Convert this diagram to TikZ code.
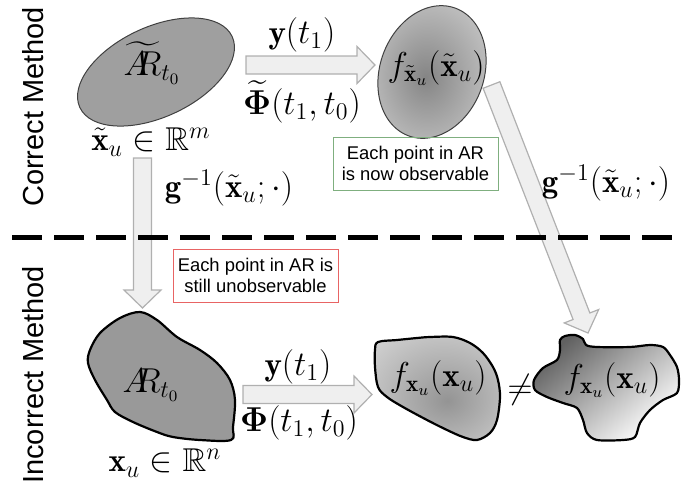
\documentclass[tikz,border=0pt]{standalone}
\usepackage{amsmath,amssymb}
\usepackage{fontspec}
\setsansfont{Liberation Sans}
\usetikzlibrary{shapes.geometric, calc}
\definecolor{arrowfill}{HTML}{EFEFEF}
\definecolor{arrowline}{HTML}{B0B0B0}
\definecolor{notegreen}{HTML}{7FAF7F}
\definecolor{notered}{HTML}{E86464}
\pgfdeclareradialshading{spotTop}{\pgfpoint{-3bp}{-2bp}}{color(0bp)=(black!48); color(18bp)=(black!34); color(44bp)=(black!14); color(70bp)=(black!14)}
\pgfdeclareradialshading{spotMid}{\pgfpoint{4bp}{-6bp}}{color(0bp)=(black!42); color(46bp)=(black!12); color(70bp)=(black!12)}

\begin{document}
\begin{tikzpicture}[x=0.5pt, y=-0.5pt,
    method/.style={font=\sffamily\fontsize{14.5}{17}\selectfont, rotate=90},
    lab/.style={font=\fontsize{16.5}{20}\selectfont, inner sep=0pt},
    note/.style={font=\sffamily\fontsize{9.2}{10.5}\selectfont, align=center, draw, line width=0.5pt, minimum width=82.5pt, minimum height=26.5pt, inner sep=1pt},
    blockarr/.style={fill=arrowfill, draw=arrowline, line width=0.6pt, line join=miter},
    region/.style={ellipse, draw=black!75, line width=0.5pt, inner sep=0pt},
    blob/.style={draw=black, line width=1.1pt, line join=round},
    divider/.style={line width=2.5pt, dash pattern=on 15pt off 6pt}
]
\useasboundingbox (0,0) rectangle (682,489);

\def\shw{4.5pt}
\def\hhw{9.25pt}
\def\hlen{9pt}
\def\blockarrow#1#2{%
  \coordinate (hb) at ($(#2)!\hlen!(#1)$);
  \draw[blockarr] ($(#1)!\shw!90:(#2)$) -- ($(hb)!\shw!90:(#2)$) -- ($(hb)!\hhw!90:(#2)$) -- (#2)
    -- ($(hb)!\hhw!-90:(#2)$) -- ($(hb)!\shw!-90:(#2)$) -- ($(#1)!\shw!-90:(#2)$) -- cycle;}

% Blob outlines
\def\blobBot{(140,312) (157,320) (177,337) (200,350) (217,363) (230,380) (235,400) (233,427) (231,440)
  (200,440) (173,437) (157,432) (133,422) (115,412) (107,400) (95,380) (88,363) (90,350) (100,333) (120,318)}
\def\blobMid{(378,342) (397,340) (417,338) (430,337) (453,337) (470,343) (483,353) (493,367) (498,380)
  (500,397) (497,420) (490,433) (477,440) (463,437) (447,430) (427,420) (403,407) (387,397)
  (378,387) (375,367) (375,350)}
\def\blobRight{(560,340) (565,336) (575,335) (583,339) (586,345) (597,347) (630,347) (650,345) (663,347)
  (670,355) (677,367) (679,380) (677,393) (663,400) (650,410) (640,423) (635,437) (623,440)
  (597,440) (587,433) (583,420) (577,408) (563,403) (547,397) (535,390) (534,380) (543,368)
  (557,360) (560,350)}

% Side titles
\node[method] (correct) at (33,107) {Correct Method};
\node[method] (incorrect) at (33,375) {Incorrect Method};

% Correct method (top row)
\node[region, fill=gray!75, minimum width=84pt, minimum height=45pt, rotate=25] (arTop) at (156,72) {};
\node[lab] (arTopLab) at (152,63) {$\widetilde{A\mkern-7mu R}_{t_0}$};
\node[lab] (xTilde) at (151,142) {$\tilde{\mathbf{x}}_u\in\mathbb{R}^m$};

% tilted ellipse, drawn point by point so the shading is not turned
\shade[shading=spotTop] plot[domain=0:355, samples=72, smooth cycle, variable=\t]
  ({432+68*cos(\t)*cos(70)-52*sin(\t)*sin(70)}, {72-68*cos(\t)*sin(70)-52*sin(\t)*cos(70)});
\draw[black!75, line width=0.5pt] plot[domain=0:355, samples=72, smooth cycle, variable=\t]
  ({432+68*cos(\t)*cos(70)-52*sin(\t)*sin(70)}, {72-68*cos(\t)*sin(70)-52*sin(\t)*cos(70)});
\node[lab] (fTopLab) at (436,68) {$f_{\tilde{\mathbf{x}}_u}(\tilde{\mathbf{x}}_u)$};

\node[note, draw=notegreen] (obsNote) at (415.5,163.5) {Each point in AR\\is now observable};

% Incorrect method (bottom row)
\draw[blob, fill=gray!80] plot[smooth cycle, tension=0.55] coordinates {\blobBot};
\node[lab] (arBot) at (151,385) {$A\mkern-7mu R_{t_0}$};
\node[lab] (xPlain) at (165,463) {$\mathbf{x}_u\in\mathbb{R}^n$};

\shade[shading=spotMid] plot[smooth cycle, tension=0.55] coordinates {\blobMid};
\draw[blob] plot[smooth cycle, tension=0.55] coordinates {\blobMid};
\node[lab] (fMid) at (438,378) {$f_{\mathbf{x}_u}(\mathbf{x}_u)$};

\node[lab] (neq) at (520,390) {$\neq$};

\shade[top color=black!62, bottom color=white, shading angle=40] plot[smooth cycle, tension=0.5] coordinates {\blobRight};
\draw[blob] plot[smooth cycle, tension=0.5] coordinates {\blobRight};
\node[lab] (fRight) at (612,380) {$f_{\mathbf{x}_u}(\mathbf{x}_u)$};

\node[note, draw=notered] (unobsNote) at (255.5,275.5) {Each point in AR is\\still unobservable};

% Block arrows
\coordinate (topS) at (246,65);
\coordinate (topE) at (375,65);
\coordinate (botS) at (243,394.5);
\coordinate (botE) at (372,394.5);
\coordinate (downS) at (142.5,158);
\coordinate (downE) at (142.5,308);
\coordinate (diagS) at (491.5,85);
\coordinate (diagE) at (588,333);
\blockarrow{topS}{topE}
\blockarrow{botS}{botE}
\blockarrow{downS}{downE}
\blockarrow{diagS}{diagE}

% Arrow labels
\node[lab] (yTop) at (302,35) {$\mathbf{y}(t_1)$};
\node[lab] (phiTop) at (302,102) {$\widetilde{\boldsymbol{\Phi}}(t_1,t_0)$};
\node[lab] (yBot) at (298,367) {$\mathbf{y}(t_1)$};
\node[lab] (phiBot) at (299,423) {$\boldsymbol{\Phi}(t_1,t_0)$};
\node[lab] (gLeft) at (229,188) {$\mathbf{g}^{-1}(\tilde{\mathbf{x}}_u;\cdot)$};
\node[lab] (gRight) at (606,183) {$\mathbf{g}^{-1}(\tilde{\mathbf{x}}_u;\cdot)$};

% Divider between the two methods
\coordinate (dashL) at (12,237);
\coordinate (dashR) at (672,237);
\draw[divider] (dashL) -- (dashR);

\end{tikzpicture}
\end{document}
